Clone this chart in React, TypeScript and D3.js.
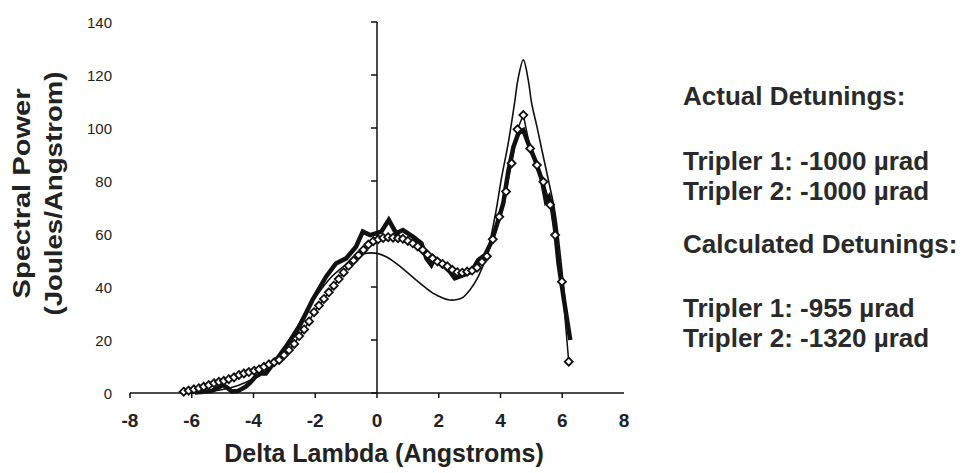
import React from "react";
import * as d3 from "d3";

const W = 967;
const H = 473;

const xTicks = [-8, -6, -4, -2, 0, 2, 4, 6, 8];
const yTicks = [0, 20, 40, 60, 80, 100, 120, 140];

// Thin line (theory)
const theoryX = [-6.0, -5.5, -5.0, -4.5, -4.0, -3.5, -3.0, -2.52, -2.3, -2.0, -1.5, -1.0, -0.6, -0.3, 0.0, 0.3, 0.62, 0.95, 1.27, 1.6, 1.87, 2.1, 2.36, 2.6, 2.8, 3.01, 3.28, 3.55, 3.82, 4.04, 4.25, 4.47, 4.56, 4.74, 4.9, 5.01, 5.18, 5.34, 5.55, 5.77, 6.0, 6.2];
const theoryY = [0, 0.5, 1.3, 2.8, 5.5, 10, 17, 26.3, 30.7, 36, 43.5, 48.5, 52, 52.8, 52.7, 51.4, 48.9, 45.8, 42.6, 39.5, 37.3, 36, 35.1, 35.3, 36.2, 38.9, 43.9, 52, 66.5, 81.6, 94.2, 110.6, 118, 125.7, 118, 109.3, 100.5, 91.7, 80.4, 67.8, 45, 22];

// Thick line (measured)
const measX = [-5.9, -5.6, -5.35, -5.15, -5.0, -4.85, -4.7, -4.5, -4.25, -4.1, -3.93, -3.75, -3.6, -3.39, -3.2, -2.95, -2.52, -2.09, -1.65, -1.33, -1.0, -0.68, -0.46, -0.22, 0.14, 0.38, 0.62, 0.84, 1.16, 1.44, 1.6, 1.76, 1.87, 2.03, 2.36, 2.52, 2.79, 3.06, 3.28, 3.5, 3.71, 3.93, 4.09, 4.25, 4.42, 4.58, 4.74, 4.9, 5.12, 5.34, 5.47, 5.57, 5.67, 5.77, 5.88, 6.04, 6.26];
const measY = [0.2, 0.5, 0.8, 2.0, 3.0, 2.0, 0.6, 0.8, 2.4, 4.0, 6.2, 7.4, 7.4, 10.6, 13.5, 17.5, 25, 35.1, 43.9, 48.9, 50.8, 55.2, 60.9, 59.6, 60.9, 65.3, 60.3, 61.5, 59, 56.5, 50.8, 48.3, 50.8, 49.5, 45.8, 43.3, 44.5, 45.8, 50.2, 52.1, 57.1, 65.3, 71.6, 83.5, 92.9, 98, 99.2, 94.2, 87.9, 80.4, 72.5, 74, 70, 61.5, 48.9, 36.3, 20];

// Diamond line (calculated)
const calcX = [-6.26, -6.1, -5.93, -5.77, -5.61, -5.45, -5.28, -5.12, -4.96, -4.8, -4.63, -4.47, -4.31, -4.15, -3.98, -3.82, -3.66, -3.5, -3.33, -3.17, -3.01, -2.85, -2.68, -2.52, -2.36, -2.2, -2.04, -1.88, -1.72, -1.56, -1.4, -1.24, -1.08, -0.92, -0.76, -0.6, -0.44, -0.28, -0.12, 0.04, 0.2, 0.36, 0.52, 0.68, 0.84, 1.0, 1.16, 1.32, 1.48, 1.64, 1.8, 1.96, 2.12, 2.28, 2.44, 2.6, 2.76, 2.92, 3.08, 3.24, 3.4, 3.56, 3.75, 3.96, 4.18, 4.36, 4.55, 4.74, 4.96, 5.18, 5.39, 5.61, 5.77, 5.99, 6.21];
const calcY = [0.5, 0.9, 1.4, 1.8, 2.4, 3.0, 3.7, 4.2, 4.6, 5.2, 5.9, 6.8, 7.4, 7.9, 8.4, 8.9, 9.9, 10.8, 11.6, 12.5, 14.3, 16.2, 18.5, 21.5, 24, 27, 30.5, 33, 35.5, 38, 40.5, 43, 45.5, 48, 50, 52, 54, 56, 57.3, 58, 58.5, 58.8, 58.6, 58.4, 58.2, 57.4, 56.5, 55.3, 54, 52.2, 50.8, 49.6, 48.7, 47.8, 46.5, 45.6, 45.4, 45.8, 46.2, 47.3, 49.5, 51.6, 58, 66.5, 76, 86.7, 99.5, 104.9, 92.3, 86, 79.7, 71, 59.6, 42, 11.8];

const rightLines = [
  { t: "Actual Detunings:", y: 105 },
  { t: "Tripler 1: -1000 \u00b5rad", y: 170 },
  { t: "Tripler 2: -1000 \u00b5rad", y: 200 },
  { t: "Calculated Detunings:", y: 253 },
  { t: "Tripler 1: -955 \u00b5rad", y: 317 },
  { t: "Tripler 2: -1320 \u00b5rad", y: 347 },
];

const x = d3.scaleLinear().domain([-8, 8]).range([130, 624]);
const y = d3.scaleLinear().domain([0, 140]).range([393, 22]);

type P = [number, number];
const zip = (a: number[], b: number[]): P[] => a.map((v, i) => [v, b[i]]);

export default function App() {
  const lin = d3.line<P>().x((d) => x(d[0])).y((d) => y(d[1]));
  const smooth = d3
    .line<P>()
    .x((d) => x(d[0]))
    .y((d) => y(d[1]))
    .curve(d3.curveCatmullRom.alpha(0.5));
  const theory = zip(theoryX, theoryY);
  const meas = zip(measX, measY);
  const calc = zip(calcX, calcY);
  const font = "'Liberation Sans', Arial, Helvetica, sans-serif";
  const tc = "#222";
  const r = 4;
  return (
    <svg
      width={W}
      height={H}
      style={{ position: "absolute", left: 0, top: 0, background: "#fff" }}
      fontFamily={font}
    >
      {/* axes */}
      <line x1={x(-8)} x2={x(8)} y1={y(0)} y2={y(0)} stroke="#111" strokeWidth={1.5} />
      <line x1={x(0)} x2={x(0)} y1={y(0)} y2={y(140)} stroke="#111" strokeWidth={1.5} />
      {xTicks.slice(0, -1).map((t) => (
        <line key={"xt" + t} x1={x(t)} x2={x(t)} y1={y(0)} y2={y(0) + 5} stroke="#111" strokeWidth={1.5} />
      ))}
      {yTicks.map((t) => (
        <line key={"yt" + t} x1={x(0) - 6} x2={x(0)} y1={y(t)} y2={y(t)} stroke="#111" strokeWidth={1.5} />
      ))}
      {xTicks.map((t) => (
        <text key={"xl" + t} x={x(t)} y={427} textAnchor="middle" fontSize={19} fontWeight="bold" fill={tc}>
          {t}
        </text>
      ))}
      {yTicks.map((t) => (
        <text key={"yl" + t} x={112} y={y(t) + 5.5} textAnchor="end" fontSize={15} fill={tc}>
          {t}
        </text>
      ))}
      {/* titles */}
      <text x={384} y={462} textAnchor="middle" fontSize={25} fontWeight="bold" fill={tc}>
        Delta Lambda (Angstroms)
      </text>
      <text
        transform="translate(30,193.5) rotate(-90)"
        textAnchor="middle"
        fontSize={24}
        fontWeight="bold"
        fill={tc}
        textLength={210}
        lengthAdjust="spacingAndGlyphs"
      >
        Spectral Power
      </text>
      <text
        transform="translate(62,193.5) rotate(-90)"
        textAnchor="middle"
        fontSize={24}
        fontWeight="bold"
        fill={tc}
        textLength={244}
        lengthAdjust="spacingAndGlyphs"
      >
        (Joules/Angstrom)
      </text>
      {rightLines.map((l) => (
        <text key={l.t} x={683} y={l.y} fontSize={26} fontWeight="bold" fill="#2a2a2a">
          {l.t}
        </text>
      ))}
      {/* series */}
      <path d={smooth(theory) || ""} fill="none" stroke="#111" strokeWidth={1.6} />
      <path d={lin(meas) || ""} fill="none" stroke="#111" strokeWidth={4.5} strokeLinejoin="miter" />
      <path d={lin(calc) || ""} fill="none" stroke="#111" strokeWidth={1.5} />
      {calc.map((d, i) => (
        <path
          key={"c" + i}
          d={`M${x(d[0])},${y(d[1]) - r}L${x(d[0]) + r},${y(d[1])}L${x(d[0])},${y(d[1]) + r}L${x(d[0]) - r},${y(d[1])}Z`}
          fill="#fff"
          stroke="#111"
          strokeWidth={1.8}
        />
      ))}
    </svg>
  );
}
